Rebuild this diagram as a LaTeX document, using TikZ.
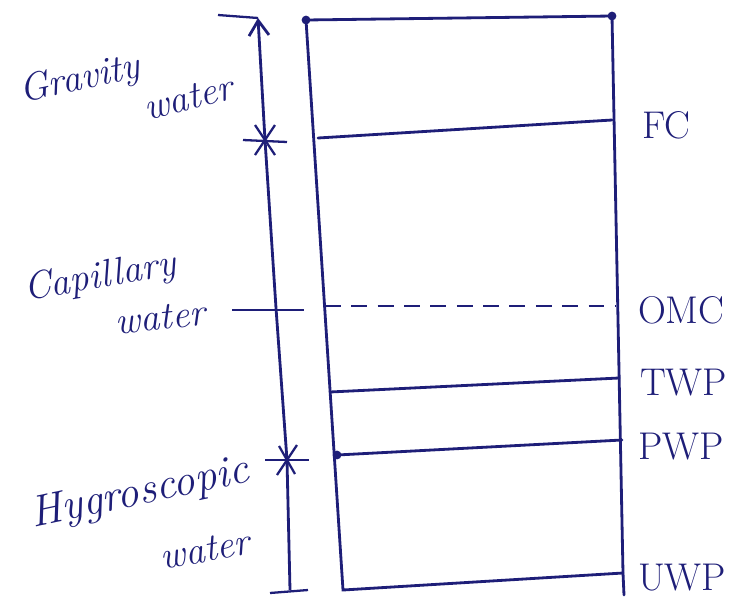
\documentclass[tikz,border=0pt]{standalone}
\usepackage{tikz}
\usetikzlibrary{arrows.meta, positioning, calc}
\usepackage{xcolor}
\definecolor{inkblue}{RGB}{30,30,120}
\tikzset{
    % soil column
    zline/.style={draw=inkblue, line width=1.6pt, line cap=round},
    zdash/.style={draw=inkblue, line width=1.6pt, dash pattern=on 9pt off 6pt},
    % labels
    zlbl/.style={font=\fontsize{22}{24}\selectfont, text=inkblue, inner sep=1pt},
    wlbl/.style={font=\itshape\fontsize{22}{24}\selectfont, text=inkblue, inner sep=1pt},
    % dimension line
    darrow/.style={draw=inkblue, line width=1.6pt, -{Straight Barb[length=3mm, width=4mm]}},
    xmark/.style={draw=inkblue, line width=1.3pt},
}
\begin{document}
\begin{tikzpicture}[x=0.02cm, y=-0.02cm]
\useasboundingbox (0,0) rectangle (754,599);
% corners and levels
\coordinate (tl) at (306,20);   \coordinate (tr) at (612,16);
\coordinate (fcl) at (318,138); \coordinate (fcr) at (612,120);
\coordinate (oml) at (325,306); \coordinate (omr) at (615,306);
\coordinate (twl) at (330,392); \coordinate (twr) at (619,378);
\coordinate (pwl) at (337,455); \coordinate (pwr) at (622,440);
\coordinate (bl) at (343,590);  \coordinate (br) at (623,573);
\coordinate (rb) at (624,595);
% column
\draw[zline] (tl) -- (tr) -- (br) -- (rb);
\draw[zline] (tl) -- (bl) -- (br);
\draw[zline] (fcl) -- (fcr);
\draw[zdash] (oml) -- (omr);
\draw[zline] (twl) -- (twr);
\draw[zline] (pwl) -- (pwr);
\fill[inkblue] (tl) circle (2.5pt) (tr) circle (2.5pt) (pwl) circle (2.5pt);
% levels
\node[zlbl, anchor=west] (fc) at (640,125) {FC};
\node[zlbl, anchor=west] (omc) at (636,310) {OMC};
\node[zlbl, anchor=west] (twp) at (638,383) {TWP};
\node[zlbl, anchor=west] (pwp) at (636,447) {PWP};
\node[zlbl, anchor=west] (uwp) at (636,578) {UWP};
% dimension line
\coordinate (dtop) at (258,18);
\coordinate (dgc) at (265,140);
\coordinate (domc) at (276,308);
\coordinate (dhc) at (287,460);
\coordinate (dbot) at (290,590);
\draw[darrow] (dbot) -- (dhc) -- (domc) -- (dgc) -- (dtop);
\draw[xmark] (dtop) -- ++(-40,-3);
\draw[xmark] (dbot) ++(-20,3) -- ++(38,-3);
\draw[xmark] (dgc) ++(-22,0) -- ++(44,2);
\draw[xmark] (dgc) ++(-10,15) -- ++(20,-30);
\draw[xmark] (dgc) ++(-10,-15) -- ++(20,30);
\draw[xmark] (dhc) ++(-22,0) -- ++(44,0);
\draw[xmark] (dhc) ++(-10,15) -- ++(20,-30);
\draw[xmark] (dhc) ++(-8,-14) -- ++(16,28);
\coordinate (omtick) at (232,310);
\draw[xmark] (omtick) -- ++(72,0);
% zones
\node[wlbl, rotate=12] (grav) at (80,80) {Gravity};
\node[wlbl, rotate=14] (gravw) at (188,98) {water};
\node[wlbl, rotate=10] (cap) at (100,278) {Capillary};
\node[wlbl, rotate=6] (capw) at (160,318) {water};
\node[wlbl, rotate=12, font=\itshape\fontsize{25}{27}\selectfont] (hyg) at (140,494) {Hygroscopic};
\node[wlbl, rotate=10] (hygw) at (205,550) {water};
\end{tikzpicture}
\end{document}
